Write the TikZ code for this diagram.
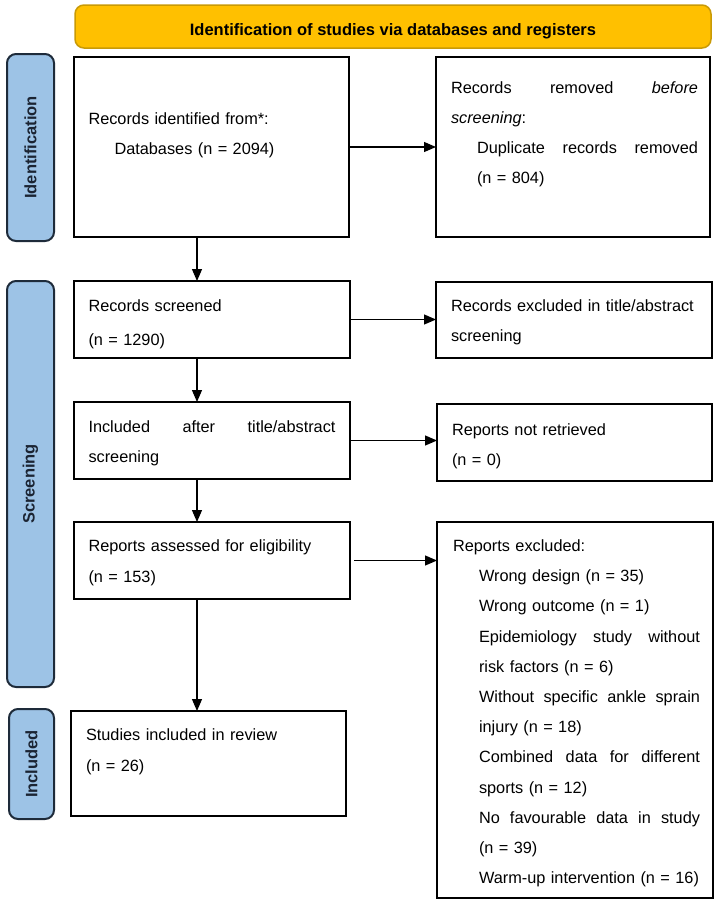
\documentclass[tikz,border=0pt]{standalone}
\usepackage{fontspec}
\setmainfont{Liberation Sans}
\usetikzlibrary{arrows.meta}
\definecolor{bannerfill}{HTML}{FFC000}
\definecolor{bannerdraw}{HTML}{C99A06}
\definecolor{labelfill}{HTML}{9DC3E6}
\definecolor{labeldraw}{HTML}{1E2B3A}
\definecolor{labeltext}{HTML}{1B2433}
\tikzset{
  box/.style={draw=black, line width=2pt, fill=white, inner sep=0pt, outer sep=0pt},
  side/.style={draw=labeldraw, line width=2pt, fill=labelfill, rounded corners=9pt, inner sep=0pt, outer sep=0pt},
  sidetext/.style={rotate=90, font=\bfseries\fontsize{16.5}{20}\selectfont, text=labeltext},
  banner/.style={draw=bannerdraw, line width=1.5pt, fill=bannerfill, rounded corners=9pt, inner sep=0pt},
  txt/.style={anchor=base west, inner sep=0pt, outer sep=0pt, text width=247pt, align=left,
              font=\fontsize{16.3}{30}\selectfont},
  arr/.style={line width=1.2pt, -{Triangle[length=12pt,width=10pt]}}
}
\begin{document}
\begin{tikzpicture}[x=1pt,y=-1pt]
\useasboundingbox (0,0) rectangle (718,906);
% banner
\node[banner, minimum width=636, minimum height=43] (ban) at (393,26.5) {};
\node[font=\bfseries\fontsize{16.5}{20}\selectfont, inner sep=0pt] (bant) at (393,31) {Identification of studies via databases and registers};
% side labels
\node[side, minimum width=47, minimum height=187] (L1) at (30.5,147.5) {};
\node[sidetext] at (L1.center) {Identification};
\node[side, minimum width=47, minimum height=406] (L2) at (30.5,484) {};
\node[sidetext] at (L2.center) {Screening};
\node[side, minimum width=45, minimum height=110] (L3) at (31.5,764) {};
\node[sidetext] at (L3.center) {Included};
% boxes
\node[box, minimum width=275, minimum height=180] (B1) at (211.5,147) {};
\node[box, minimum width=274, minimum height=180] (B2) at (573,147) {};
\node[box, minimum width=276, minimum height=77] (B3) at (212,319.5) {};
\node[box, minimum width=276, minimum height=76] (B4) at (574,320) {};
\node[box, minimum width=276, minimum height=77] (B5) at (212,440.5) {};
\node[box, minimum width=275, minimum height=77] (B6) at (574.5,442.5) {};
\node[box, minimum width=276, minimum height=77] (B7) at (212,560.5) {};
\node[box, minimum width=276, minimum height=376] (B8) at (575,710) {};
\node[box, minimum width=275, minimum height=105] (B9) at (208.5,763.5) {};
% texts
\node[txt] (T1) at (88.5,124) {Records identified from*:\\\hspace*{26pt}Databases (n = 2094)};
\node[txt] (T2) at (451,93) {Records\hfill removed\hfill \textit{before}\\\textit{screening}:\\\hspace*{26pt}Duplicate\hfill records\hfill removed\\\hspace*{26pt}(n = 804)};
\node[txt, font=\fontsize{16.3}{34.5}\selectfont] (T3) at (88.5,311) {Records screened\\(n = 1290)};
\node[txt] (T4) at (451,311) {Records excluded in title/abstract\\screening};
\node[txt] (T5) at (88.5,432) {Included\hfill after\hfill title/abstract\\screening};
\node[txt] (T6) at (452,435) {Reports not retrieved\\(n = 0)};
\node[txt, font=\fontsize{16.3}{31}\selectfont] (T7) at (88.5,551.5) {Reports assessed for eligibility\\(n = 153)};
\node[txt, font=\fontsize{16.3}{30.2}\selectfont] (T8) at (453,551.5) {Reports excluded:\\
\hspace*{26pt}Wrong design (n = 35)\\
\hspace*{26pt}Wrong outcome (n = 1)\\
\hspace*{26pt}Epidemiology\hfill study\hfill without\\
\hspace*{26pt}risk factors (n = 6)\\
\hspace*{26pt}Without\hfill specific\hfill ankle\hfill sprain\\
\hspace*{26pt}injury (n = 18)\\
\hspace*{26pt}Combined\hfill data\hfill for\hfill different\\
\hspace*{26pt}sports (n = 12)\\
\hspace*{26pt}No\hfill favourable\hfill data\hfill in\hfill study\\
\hspace*{26pt}(n = 39)\\
\hspace*{26pt}Warm-up intervention (n = 16)};
\node[txt, font=\fontsize{16.3}{31}\selectfont] (T9) at (86,740) {Studies included in review\\(n = 26)};
% connectors
\coordinate (vx) at (197,0);
\draw[arr] (B1.east) -- (B2.west);
\draw[arr] (B3.east) -- (B3.east -| B4.west);
\draw[arr] (B5.east) -- (B5.east -| B6.west);
\draw[arr] ([xshift=4pt]B7.east) -- (B7.east -| B8.west);
\draw[arr] (B1.south -| vx) -- (B3.north -| vx);
\draw[arr] (B3.south -| vx) -- (B5.north -| vx);
\draw[arr] (B5.south -| vx) -- (B7.north -| vx);
\draw[arr] (B7.south -| vx) -- (B9.north -| vx);
\end{tikzpicture}
\end{document}
